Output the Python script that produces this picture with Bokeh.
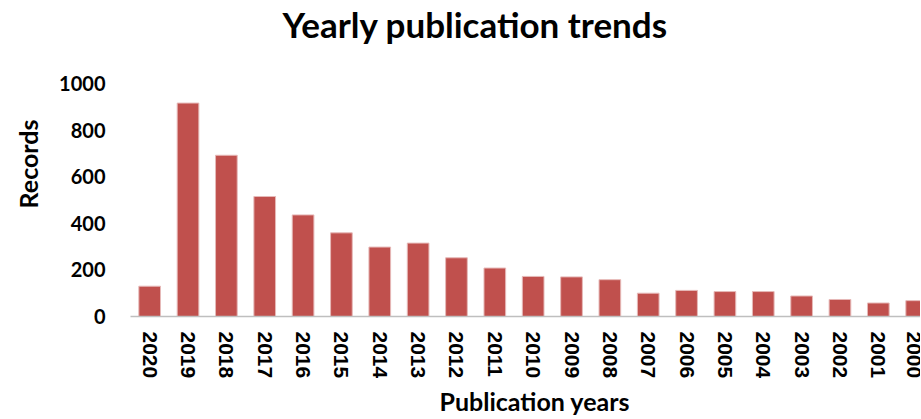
from bokeh.plotting import figure
from bokeh.models import Range1d, FixedTicker, ColumnDataSource, Title
from bokeh.embed import file_html
from bokeh.resources import INLINE

years = ["2020", "2019", "2018", "2017", "2016", "2015", "2014", "2013", "2012", "2011",
         "2010", "2009", "2008", "2007", "2006", "2005", "2004", "2003", "2002", "2001", "2000"]
records = [130, 916, 692, 515, 436, 359, 298, 315, 252, 208,
           172, 170, 158, 100, 112, 107, 107, 88, 73, 58, 68]
y_ticks = [0, 200, 400, 600, 800, 1000]

idx = list(range(len(years)))
src = ColumnDataSource(dict(x=idx, top=records, year=years))

p = figure(width=920, height=418, output_backend="svg", toolbar_location=None,
           x_range=Range1d(-0.5, 20.1), y_range=Range1d(0, 1000),
           min_border_left=128, min_border_right=0, min_border_top=83, min_border_bottom=101)

p.vbar(x="x", top="top", bottom=0, width=0.565, source=src,
       fill_color="#C0504D", line_color="#E6B9B8", line_width=1)

p.outline_line_color = None
p.xgrid.grid_line_color = None
p.ygrid.grid_line_color = None

# spacer closest to the frame, then the real title further out
spacer = Title(text=" ", text_font="Lato", text_font_size="10px", standoff=23)
p.add_layout(spacer, "above")
main_title = Title(text="Yearly publication trends", align="left", offset=152, standoff=0,
                   vertical_align="top", text_font="Lato", text_font_style="bold",
                   text_font_size="35px", text_color="black")
p.add_layout(main_title, "above")

xa = p.xaxis[0]
xa.ticker = FixedTicker(ticks=idx)
xa.major_label_overrides = {i: y for i, y in zip(idx, years)}
xa.major_label_orientation = "vertical"
xa.major_label_text_font = "Liberation Sans"
xa.major_label_text_font_style = "bold"
xa.major_label_text_font_size = "21px"
xa.major_label_text_color = "black"
xa.major_label_standoff = 15
xa.major_tick_out = 0
xa.major_tick_in = 0
xa.major_tick_line_color = None
xa.minor_tick_line_color = None
xa.axis_line_color = "#BFBFBF"
xa.axis_line_width = 1.5

ya = p.yaxis[0]
ya.ticker = FixedTicker(ticks=y_ticks)
ya.major_label_text_font = "Lato"
ya.major_label_text_font_style = "bold"
ya.major_label_text_font_size = "20px"
ya.major_label_text_color = "black"
ya.major_label_standoff = 25
ya.major_tick_out = 0
ya.major_tick_in = 0
ya.major_tick_line_color = None
ya.minor_tick_line_color = None
ya.axis_line_color = None

ylabel = Title(text="Records", align="right", offset=36, standoff=24, vertical_align="top",
               text_font="Lato", text_font_style="bold", text_font_size="25px",
               text_color="black")
p.add_layout(ylabel, "left")

xlabel = Title(text="Publication years", align="left", offset=309, standoff=5,
               text_font="Lato", text_font_style="bold", text_font_size="25px",
               text_color="black")
p.add_layout(xlabel, "below")

open("out.html", "w").write(file_html(p, INLINE))
